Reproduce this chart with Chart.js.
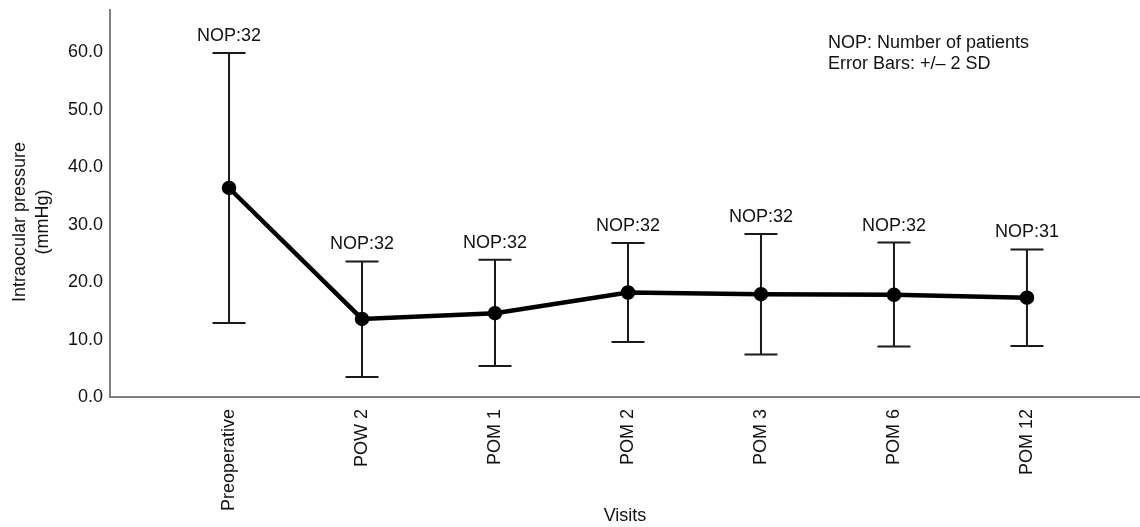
<!DOCTYPE html>
<html><head><meta charset="utf-8">
<script src="https://cdn.jsdelivr.net/npm/chart.js@4"></script>
<style>html,body{margin:0;padding:0;background:#fff;} canvas{display:block;}</style>
</head><body>
<canvas id="c" width="1140" height="527"></canvas>
<script>
const visits = ['Preoperative','POW 2','POM 1','POM 2','POM 3','POM 6','POM 12'];
const meanIOP = [36.4, 13.6, 14.6, 18.2, 17.9, 17.8, 17.3];
const upperIOP = [59.9, 23.6, 23.9, 26.8, 28.4, 26.9, 25.7];
const lowerIOP = [12.9, 3.5, 5.4, 9.6, 7.4, 8.8, 8.9];
const nopLabels = ['NOP:32','NOP:32','NOP:32','NOP:32','NOP:32','NOP:32','NOP:31'];
const yTicks = [0,10,20,30,40,50,60];
const noteLines = ['NOP: Number of patients','Error Bars: +/\u2013 2 SD'];
const yTitleLines = ['Intraocular pressure','(mmHg)'];
const xTitle = 'Visits';

const FONT = '"Liberation Sans", Arial, Helvetica, sans-serif';
const TXT = '#111';

const overlay = {
  id: 'overlay',
  beforeDatasetsDraw(chart) {
    const {ctx, scales: {x, y}} = chart;
    ctx.save();
    ctx.strokeStyle = '#1a1a1a';
    ctx.lineWidth = 2;
    visits.forEach((_, i) => {
      const px = x.getPixelForValue(i);
      const pu = y.getPixelForValue(upperIOP[i]);
      const pl = y.getPixelForValue(lowerIOP[i]);
      ctx.beginPath();
      ctx.moveTo(px, pu); ctx.lineTo(px, pl);
      ctx.moveTo(px - 16.5, pu); ctx.lineTo(px + 16.5, pu);
      ctx.moveTo(px - 16.5, pl); ctx.lineTo(px + 16.5, pl);
      ctx.stroke();
      ctx.fillStyle = TXT;
      ctx.font = '18px ' + FONT;
      ctx.textAlign = 'center';
      ctx.textBaseline = 'alphabetic';
      ctx.fillText(nopLabels[i], px, pu - 12);
    });
    ctx.restore();
  },
  afterDraw(chart) {
    const {ctx} = chart;
    ctx.save();
    ctx.fillStyle = TXT;
    ctx.font = '18px ' + FONT;
    ctx.textAlign = 'left';
    ctx.textBaseline = 'alphabetic';
    ctx.fillText(noteLines[0], 828, 48);
    ctx.fillText(noteLines[1], 828, 69);
    ctx.textAlign = 'center';
    ctx.save(); ctx.translate(25, 222); ctx.rotate(-Math.PI / 2); ctx.fillText(yTitleLines[0], 0, 0); ctx.restore();
    ctx.save(); ctx.translate(48, 222); ctx.rotate(-Math.PI / 2); ctx.fillText(yTitleLines[1], 0, 0); ctx.restore();
    ctx.restore();
  }
};

new Chart(document.getElementById('c'), {
  type: 'line',
  data: {
    datasets: [{
      data: meanIOP.map((v, i) => ({x: i, y: v})),
      borderColor: '#000',
      backgroundColor: '#000',
      borderWidth: 4.5,
      pointRadius: 5,
      pointBackgroundColor: '#000',
      pointBorderColor: '#000',
      tension: 0,
      fill: false,
      clip: false
    }]
  },
  options: {
    responsive: false,
    animation: false,
    layout: {autoPadding: false, padding: {top: 10, left: 0, right: 0, bottom: 0}},
    plugins: {legend: {display: false}, tooltip: {enabled: false}},
    scales: {
      x: {
        type: 'linear',
        position: 'bottom',
        min: -0.895,
        max: 6.85,
        afterBuildTicks: s => { s.ticks = visits.map((_, i) => ({value: i})); },
        afterFit: s => { s.height = 130; s.paddingLeft = 0; s.paddingRight = 0; s.paddingTop = 0; s.paddingBottom = 0; },
        grid: {display: false, drawTicks: false},
        border: {display: true, color: '#808080', width: 2},
        ticks: {
          autoSkip: false,
          minRotation: 90,
          maxRotation: 90,
          padding: 12,
          color: TXT,
          font: {family: FONT, size: 18},
          callback: v => visits[v]
        },
        title: {display: true, text: xTitle, color: TXT, font: {family: FONT, size: 18}, padding: {top: 0, bottom: 0}}
      },
      y: {
        type: 'linear',
        min: 0,
        max: 67.4,
        afterBuildTicks: s => { s.ticks = yTicks.map(v => ({value: v})); },
        afterFit: s => { s.width = 110; s.paddingLeft = 0; s.paddingRight = 0; s.paddingTop = 0; s.paddingBottom = 0; },
        grid: {display: false, drawTicks: false},
        border: {display: true, color: '#808080', width: 2},
        ticks: {
          padding: 7,
          color: TXT,
          font: {family: FONT, size: 18},
          callback: v => Number(v).toFixed(1)
        }
      }
    }
  },
  plugins: [overlay]
});
</script>
</body></html>
